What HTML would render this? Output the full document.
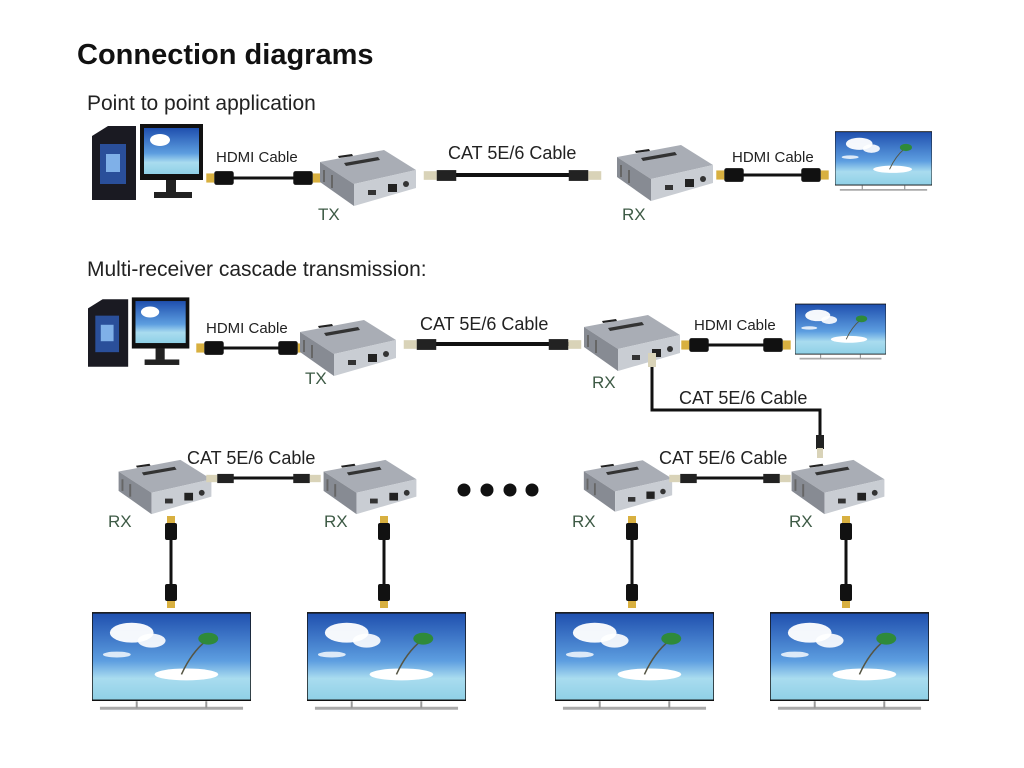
<!DOCTYPE html>
<html><head><meta charset="utf-8"><style>
html,body{margin:0;padding:0;background:#fff;}
svg{display:block}
text{font-family:"Liberation Sans",Arial,sans-serif;fill:#222}
.g{fill:#3d5a45}
</style></head><body>
<svg width="1024" height="768" viewBox="0 0 1024 768" xmlns="http://www.w3.org/2000/svg">
<defs>
<linearGradient id="sky" x1="0" y1="0" x2="0" y2="1">
<stop offset="0" stop-color="#1f4fae"/><stop offset="0.55" stop-color="#5d9ee0"/><stop offset="0.75" stop-color="#a9dcef"/><stop offset="1" stop-color="#8fd0e6"/>
</linearGradient>
<symbol id="box" viewBox="0 0 100 60">
<polygon points="2,14 66,2 98,22 36,36" fill="#a9adb5"/>
<polygon points="2,14 36,36 36,58 2,34" fill="#878b93"/>
<polygon points="36,36 98,22 98,40 36,58" fill="#c9cdd3"/>
<polygon points="26,15 60,9 62,12 28,18" fill="#333"/>
<polygon points="20,8 34,6 35,8 21,10" fill="#222"/>
<rect x="50" y="42" width="8" height="5" fill="#333"/>
<rect x="70" y="36" width="9" height="8" fill="#222"/>
<circle cx="88" cy="36" r="3" fill="#333"/>
<line x1="6" y1="22" x2="6" y2="34" stroke="#666" stroke-width="2"/>
<line x1="14" y1="27" x2="14" y2="40" stroke="#666" stroke-width="2"/>
</symbol>
<symbol id="tv" viewBox="0 0 160 100">
<rect x="0" y="0" width="160" height="88" fill="url(#sky)" stroke="#111" stroke-width="1.5"/>
<ellipse cx="40" cy="20" rx="22" ry="10" fill="#fff" opacity="0.95"/>
<ellipse cx="60" cy="28" rx="14" ry="7" fill="#fff" opacity="0.9"/>
<ellipse cx="25" cy="42" rx="14" ry="3" fill="#fff" opacity="0.8"/>
<ellipse cx="95" cy="62" rx="32" ry="6" fill="#fff"/>
<path d="M90,62 Q100,40 115,28" stroke="#554" stroke-width="1.5" fill="none"/>
<ellipse cx="117" cy="26" rx="10" ry="6" fill="#2f8a3a"/>
<line x1="8" y1="96" x2="152" y2="96" stroke="#aaa" stroke-width="3"/>
<line x1="45" y1="89" x2="45" y2="96" stroke="#999" stroke-width="2"/>
<line x1="115" y1="89" x2="115" y2="96" stroke="#999" stroke-width="2"/>
</symbol>
<symbol id="pc" viewBox="0 0 115 78">
<polygon points="0,12 16,2 44,2 44,76 0,76" fill="#1a1a22"/>
<rect x="8" y="20" width="26" height="40" fill="#2a4f9a"/>
<rect x="14" y="30" width="14" height="18" fill="#7fb0e8"/>
<rect x="48" y="0" width="63" height="56" fill="#111"/>
<rect x="52" y="4" width="55" height="46" fill="url(#sky)"/>
<ellipse cx="68" cy="16" rx="10" ry="6" fill="#fff"/>
<rect x="74" y="56" width="10" height="12" fill="#222"/>
<rect x="62" y="68" width="38" height="6" fill="#222"/>
</symbol>
<symbol id="hl" viewBox="0 0 24 14"><rect x="0" y="3" width="7" height="8" fill="#d8b040"/><rect x="7" y="1" width="17" height="12" rx="2" fill="#111"/></symbol>
<symbol id="hr" viewBox="0 0 24 14"><rect x="17" y="3" width="7" height="8" fill="#d8b040"/><rect x="0" y="1" width="17" height="12" rx="2" fill="#111"/></symbol>
<symbol id="hv" viewBox="0 0 14 24"><rect x="3" y="0" width="8" height="7" fill="#d8b040"/><rect x="1" y="7" width="12" height="17" rx="2" fill="#111"/></symbol>
<symbol id="hvb" viewBox="0 0 14 24"><rect x="3" y="17" width="8" height="7" fill="#d8b040"/><rect x="1" y="0" width="12" height="17" rx="2" fill="#111"/></symbol>
<symbol id="rl" viewBox="0 0 30 12"><rect x="0" y="2" width="12" height="8" fill="#d9d3b8"/><rect x="12" y="1" width="18" height="10" fill="#222"/></symbol>
<symbol id="rr" viewBox="0 0 30 12"><rect x="18" y="2" width="12" height="8" fill="#d9d3b8"/><rect x="0" y="1" width="18" height="10" fill="#222"/></symbol>
</defs>

<text x="77" y="64" font-size="29" font-weight="bold" style="fill:#111">Connection diagrams</text>
<text x="87" y="110" font-size="21">Point to point application</text>

<!-- Row 1 -->
<use href="#pc" x="92" y="124" width="115" height="78"/>
<line x1="220" y1="178" x2="305" y2="178" stroke="#111" stroke-width="3"/>
<use href="#hl" x="205" y="170" width="30" height="16"/>
<use href="#hr" x="292" y="170" width="30" height="16"/>
<text x="216" y="162" font-size="15">HDMI Cable</text>
<use href="#box" x="318" y="148" width="100" height="60"/>
<text x="318" y="220" font-size="17" class="g">TX</text>
<line x1="440" y1="175" x2="585" y2="175" stroke="#111" stroke-width="4"/>
<use href="#rl" x="420" y="169" width="40" height="13"/>
<use href="#rr" x="565" y="169" width="40" height="13"/>
<text x="448" y="159" font-size="18">CAT 5E/6 Cable</text>
<use href="#box" x="615" y="143" width="100" height="60"/>
<text x="622" y="220" font-size="17" class="g">RX</text>
<line x1="730" y1="175" x2="815" y2="175" stroke="#111" stroke-width="3"/>
<use href="#hl" x="715" y="167" width="30" height="16"/>
<use href="#hr" x="800" y="167" width="30" height="16"/>
<text x="732" y="162" font-size="15">HDMI Cable</text>
<use href="#tv" x="835" y="130" width="97" height="64" preserveAspectRatio="none"/>

<text x="87" y="276" font-size="21">Multi-receiver cascade transmission:</text>

<!-- Row 2 -->
<use href="#pc" x="88" y="296" width="105" height="74"/>
<line x1="210" y1="348" x2="292" y2="348" stroke="#111" stroke-width="3"/>
<use href="#hl" x="195" y="340" width="30" height="16"/>
<use href="#hr" x="277" y="340" width="30" height="16"/>
<text x="206" y="333" font-size="15">HDMI Cable</text>
<use href="#box" x="298" y="318" width="100" height="60"/>
<text x="305" y="384" font-size="17" class="g">TX</text>
<line x1="420" y1="344" x2="570" y2="344" stroke="#111" stroke-width="4"/>
<use href="#rl" x="400" y="338" width="40" height="13"/>
<use href="#rr" x="545" y="338" width="40" height="13"/>
<text x="420" y="330" font-size="18">CAT 5E/6 Cable</text>
<use href="#box" x="582" y="313" width="100" height="60"/>
<text x="592" y="388" font-size="17" class="g">RX</text>
<line x1="695" y1="345" x2="775" y2="345" stroke="#111" stroke-width="3"/>
<use href="#hl" x="680" y="337" width="30" height="16"/>
<use href="#hr" x="762" y="337" width="30" height="16"/>
<text x="694" y="330" font-size="15">HDMI Cable</text>
<use href="#tv" x="795" y="302" width="91" height="61" preserveAspectRatio="none"/>

<polyline points="652,365 652,410 820,410 820,450" fill="none" stroke="#111" stroke-width="3"/>
<rect x="648" y="353" width="8" height="14" fill="#d9d3b8"/>
<rect x="816" y="435" width="8" height="14" fill="#222"/>
<rect x="817" y="448" width="6" height="10" fill="#d9d3b8"/>
<text x="679" y="404" font-size="18">CAT 5E/6 Cable</text>

<!-- Row 3 -->
<use href="#box" x="115" y="458" width="100" height="58"/>
<use href="#box" x="320" y="458" width="100" height="58"/>
<use href="#box" x="582" y="458" width="92" height="56"/>
<use href="#box" x="788" y="458" width="100" height="58"/>
<line x1="222" y1="478" x2="305" y2="478" stroke="#111" stroke-width="3"/>
<use href="#rl" x="205" y="473" width="30" height="11"/>
<use href="#rr" x="292" y="473" width="30" height="11"/>
<text x="187" y="464" font-size="18">CAT 5E/6 Cable</text>
<line x1="685" y1="478" x2="775" y2="478" stroke="#111" stroke-width="3"/>
<use href="#rl" x="668" y="473" width="30" height="11"/>
<use href="#rr" x="762" y="473" width="30" height="11"/>
<text x="659" y="464" font-size="18">CAT 5E/6 Cable</text>
<circle cx="464" cy="490" r="6.5" fill="#111"/>
<circle cx="487" cy="490" r="6.5" fill="#111"/>
<circle cx="510" cy="490" r="6.5" fill="#111"/>
<circle cx="532" cy="490" r="6.5" fill="#111"/>
<text x="108" y="527" font-size="17" class="g">RX</text>
<text x="324" y="527" font-size="17" class="g">RX</text>
<text x="572" y="527" font-size="17" class="g">RX</text>
<text x="789" y="527" font-size="17" class="g">RX</text>

<g>
<line x1="171" y1="540" x2="171" y2="585" stroke="#111" stroke-width="3"/>
<use href="#hv" x="164" y="512" width="14" height="32"/>
<use href="#hvb" x="164" y="580" width="14" height="32"/>
<line x1="384" y1="540" x2="384" y2="585" stroke="#111" stroke-width="3"/>
<use href="#hv" x="377" y="512" width="14" height="32"/>
<use href="#hvb" x="377" y="580" width="14" height="32"/>
<line x1="632" y1="540" x2="632" y2="585" stroke="#111" stroke-width="3"/>
<use href="#hv" x="625" y="512" width="14" height="32"/>
<use href="#hvb" x="625" y="580" width="14" height="32"/>
<line x1="846" y1="540" x2="846" y2="585" stroke="#111" stroke-width="3"/>
<use href="#hv" x="839" y="512" width="14" height="32"/>
<use href="#hvb" x="839" y="580" width="14" height="32"/>
</g>

<use href="#tv" x="92" y="612" width="159" height="101" preserveAspectRatio="none"/>
<use href="#tv" x="307" y="612" width="159" height="101" preserveAspectRatio="none"/>
<use href="#tv" x="555" y="612" width="159" height="101" preserveAspectRatio="none"/>
<use href="#tv" x="770" y="612" width="159" height="101" preserveAspectRatio="none"/>
</svg>
</body></html>
